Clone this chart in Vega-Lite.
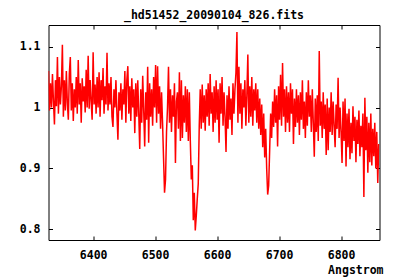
{
"$schema": "https://vega.github.io/schema/vega-lite/v6.json",
"width": 331, "height": 215,
"autosize": "none",
"padding": {"left": 48.5, "top": 25, "right": 20.5, "bottom": 40},
"background": "white",
"title": {"text": "_hd51452_20090104_826.fits", "font": "DejaVu Sans Mono", "fontSize": 11.5, "fontWeight": "bold", "color": "black", "anchor": "middle", "frame": "group", "offset": 7, "dy": 13, "baseline": "alphabetic"},
"config": {"view": {"stroke": "black", "strokeWidth": 1}},
"datasets": {"s": [
{"w":6328,"f":1.060},{"w":6329.6,"f":0.995},{"w":6331.2,"f":1.040},{"w":6332.8,"f":1.000},{"w":6334.4,"f":1.055},{"w":6336,"f":1.010},{"w":6337.6,"f":0.972},{"w":6339.2,"f":1.045},{"w":6340.8,"f":1.002},{"w":6342.4,"f":1.083},
{"w":6344,"f":0.990},{"w":6345.6,"f":1.050},{"w":6347.2,"f":1.005},{"w":6348.8,"f":1.035},{"w":6350.4,"f":1.103},{"w":6352,"f":0.985},{"w":6353.6,"f":1.045},{"w":6355.2,"f":0.995},{"w":6356.8,"f":1.060},{"w":6358.4,"f":1.008},
{"w":6360,"f":0.980},{"w":6361.6,"f":1.055},{"w":6363.2,"f":1.083},{"w":6364.8,"f":0.995},{"w":6366.4,"f":1.040},{"w":6368,"f":0.978},{"w":6369.6,"f":1.030},{"w":6371.2,"f":1.000},{"w":6372.8,"f":1.050},{"w":6374.4,"f":0.990},
{"w":6376,"f":1.078},{"w":6377.6,"f":1.005},{"w":6379.2,"f":1.040},{"w":6380.8,"f":0.975},{"w":6382.4,"f":1.048},{"w":6384,"f":1.010},{"w":6385.6,"f":1.035},{"w":6387.2,"f":0.992},{"w":6388.8,"f":1.062},{"w":6390.4,"f":1.000},
{"w":6392,"f":1.085},{"w":6393.6,"f":0.998},{"w":6395.2,"f":1.045},{"w":6396.8,"f":1.010},{"w":6398.4,"f":0.980},{"w":6400,"f":1.091},{"w":6401.6,"f":1.005},{"w":6403.2,"f":1.038},{"w":6404.8,"f":0.990},{"w":6406.4,"f":1.050},
{"w":6408,"f":1.000},{"w":6409.6,"f":1.058},{"w":6411.2,"f":0.985},{"w":6412.8,"f":1.045},{"w":6414.4,"f":1.012},{"w":6416,"f":1.065},{"w":6417.6,"f":0.990},{"w":6419.2,"f":1.035},{"w":6420.8,"f":1.005},{"w":6422.4,"f":1.090},
{"w":6424,"f":0.995},{"w":6425.6,"f":1.040},{"w":6427.2,"f":1.005},{"w":6428.8,"f":1.050},{"w":6430.4,"f":0.985},{"w":6432,"f":0.968},{"w":6433.6,"f":1.030},{"w":6435.2,"f":1.000},{"w":6436.8,"f":1.045},{"w":6438.4,"f":0.990},
{"w":6440,"f":0.947},{"w":6441.6,"f":1.025},{"w":6443.2,"f":0.995},{"w":6444.8,"f":1.040},{"w":6446.4,"f":0.980},{"w":6448,"f":1.030},{"w":6449.6,"f":1.005},{"w":6451.2,"f":1.060},{"w":6452.8,"f":0.975},{"w":6454.4,"f":1.045},
{"w":6456,"f":1.068},{"w":6457.6,"f":0.990},{"w":6459.2,"f":1.035},{"w":6460.8,"f":0.978},{"w":6462.4,"f":1.048},{"w":6464,"f":1.000},{"w":6465.6,"f":1.030},{"w":6467.2,"f":0.958},{"w":6468.8,"f":1.040},{"w":6470.4,"f":0.985},
{"w":6472,"f":1.045},{"w":6473.6,"f":0.990},{"w":6475.2,"f":0.932},{"w":6476.8,"f":1.030},{"w":6478.4,"f":0.975},{"w":6480,"f":1.052},{"w":6481.6,"f":0.995},{"w":6483.2,"f":0.936},{"w":6484.8,"f":1.025},{"w":6486.4,"f":0.980},
{"w":6488,"f":1.067},{"w":6489.6,"f":0.942},{"w":6491.2,"f":1.040},{"w":6492.8,"f":0.985},{"w":6494.4,"f":1.030},{"w":6496,"f":0.970},{"w":6497.6,"f":1.050},{"w":6499.2,"f":1.000},{"w":6500.8,"f":1.070},{"w":6502.4,"f":0.975},
{"w":6504,"f":1.068},{"w":6505.6,"f":0.990},{"w":6507.2,"f":1.035},{"w":6508.8,"f":0.965},{"w":6510.4,"f":1.025},{"w":6512,"f":0.975},{"w":6513.6,"f":0.917},{"w":6515.2,"f":0.860},{"w":6516.8,"f":0.882},{"w":6518.4,"f":0.960},
{"w":6520,"f":1.000},{"w":6521.6,"f":1.067},{"w":6523.2,"f":0.975},{"w":6524.8,"f":1.030},{"w":6526.4,"f":0.960},{"w":6528,"f":1.020},{"w":6529.6,"f":0.985},{"w":6531.2,"f":1.040},{"w":6532.8,"f":0.909},{"w":6534.4,"f":1.010},
{"w":6536,"f":1.025},{"w":6537.6,"f":0.965},{"w":6539.2,"f":1.058},{"w":6540.8,"f":0.945},{"w":6542.4,"f":1.045},{"w":6544,"f":0.950},{"w":6545.6,"f":1.020},{"w":6547.2,"f":0.975},{"w":6548.8,"f":1.035},{"w":6550.4,"f":0.960},
{"w":6552,"f":1.030},{"w":6553.6,"f":0.945},{"w":6555.2,"f":1.025},{"w":6556.8,"f":0.945},{"w":6558.4,"f":0.882},{"w":6560,"f":0.905},{"w":6561.6,"f":0.815},{"w":6563.2,"f":0.860},{"w":6564.8,"f":0.798},{"w":6566.4,"f":0.822},
{"w":6568,"f":0.850},{"w":6569.6,"f":0.875},{"w":6571.2,"f":0.970},{"w":6572.8,"f":1.030},{"w":6574.4,"f":0.965},{"w":6576,"f":1.038},{"w":6577.6,"f":0.975},{"w":6579.2,"f":1.020},{"w":6580.8,"f":0.962},{"w":6582.4,"f":1.030},
{"w":6584,"f":0.985},{"w":6585.6,"f":1.040},{"w":6587.2,"f":0.970},{"w":6588.8,"f":1.055},{"w":6590.4,"f":0.990},{"w":6592,"f":1.025},{"w":6593.6,"f":0.960},{"w":6595.2,"f":1.035},{"w":6596.8,"f":0.975},{"w":6598.4,"f":1.045},
{"w":6600,"f":0.980},{"w":6601.6,"f":1.030},{"w":6603.2,"f":0.942},{"w":6604.8,"f":1.040},{"w":6606.4,"f":0.990},{"w":6608,"f":1.050},{"w":6609.6,"f":0.970},{"w":6611.2,"f":1.025},{"w":6612.8,"f":0.985},{"w":6614.4,"f":0.927},
{"w":6616,"f":1.020},{"w":6617.6,"f":0.965},{"w":6619.2,"f":1.035},{"w":6620.8,"f":0.980},{"w":6622.4,"f":1.015},{"w":6624,"f":0.955},{"w":6625.6,"f":1.040},{"w":6627.2,"f":0.990},{"w":6628.8,"f":1.030},{"w":6630.4,"f":1.057},
{"w":6632,"f":1.124},{"w":6633.6,"f":0.975},{"w":6635.2,"f":1.067},{"w":6636.8,"f":0.990},{"w":6638.4,"f":1.040},{"w":6640,"f":0.965},{"w":6641.6,"f":1.030},{"w":6643.2,"f":1.000},{"w":6644.8,"f":1.045},{"w":6646.4,"f":0.970},
{"w":6648,"f":1.020},{"w":6649.6,"f":1.087},{"w":6651.2,"f":0.975},{"w":6652.8,"f":1.035},{"w":6654.4,"f":0.985},{"w":6656,"f":1.050},{"w":6657.6,"f":0.970},{"w":6659.2,"f":1.030},{"w":6660.8,"f":0.995},{"w":6662.4,"f":1.040},
{"w":6664,"f":0.975},{"w":6665.6,"f":1.030},{"w":6667.2,"f":0.965},{"w":6668.8,"f":1.015},{"w":6670.4,"f":0.955},{"w":6672,"f":1.005},{"w":6673.6,"f":0.935},{"w":6675.2,"f":0.990},{"w":6676.8,"f":0.918},{"w":6678.4,"f":0.965},
{"w":6680,"f":0.900},{"w":6681.6,"f":0.857},{"w":6683.2,"f":0.872},{"w":6684.8,"f":0.930},{"w":6686.4,"f":0.990},{"w":6688,"f":0.950},{"w":6689.6,"f":1.010},{"w":6691.2,"f":0.968},{"w":6692.8,"f":1.030},{"w":6694.4,"f":0.975},
{"w":6696,"f":1.020},{"w":6697.6,"f":0.936},{"w":6699.2,"f":1.035},{"w":6700.8,"f":0.980},{"w":6702.4,"f":1.054},{"w":6704,"f":0.970},{"w":6705.6,"f":1.073},{"w":6707.2,"f":0.985},{"w":6708.8,"f":1.030},{"w":6710.4,"f":0.960},
{"w":6712,"f":1.035},{"w":6713.6,"f":0.975},{"w":6715.2,"f":1.025},{"w":6716.8,"f":0.960},{"w":6718.4,"f":1.040},{"w":6720,"f":0.990},{"w":6721.6,"f":1.030},{"w":6723.2,"f":0.940},{"w":6724.8,"f":1.015},{"w":6726.4,"f":0.968},
{"w":6728,"f":1.030},{"w":6729.6,"f":0.975},{"w":6731.2,"f":1.020},{"w":6732.8,"f":0.955},{"w":6734.4,"f":1.025},{"w":6736,"f":0.980},{"w":6737.6,"f":1.045},{"w":6739.2,"f":0.965},{"w":6740.8,"f":1.010},{"w":6742.4,"f":0.950},
{"w":6744,"f":1.025},{"w":6745.6,"f":0.970},{"w":6747.2,"f":1.045},{"w":6748.8,"f":0.985},{"w":6750.4,"f":1.020},{"w":6752,"f":0.960},{"w":6753.6,"f":1.030},{"w":6755.2,"f":0.975},{"w":6756.8,"f":0.919},{"w":6758.4,"f":1.015},
{"w":6760,"f":0.960},{"w":6761.6,"f":1.020},{"w":6763.2,"f":0.945},{"w":6764.8,"f":1.093},{"w":6766.4,"f":0.970},{"w":6768,"f":1.010},{"w":6769.6,"f":0.950},{"w":6771.2,"f":1.025},{"w":6772.8,"f":0.965},{"w":6774.4,"f":1.005},
{"w":6776,"f":0.922},{"w":6777.6,"f":1.015},{"w":6779.2,"f":0.930},{"w":6780.8,"f":1.000},{"w":6782.4,"f":0.960},{"w":6784,"f":1.025},{"w":6785.6,"f":0.955},{"w":6787.2,"f":1.010},{"w":6788.8,"f":0.970},{"w":6790.4,"f":0.935},
{"w":6792,"f":1.005},{"w":6793.6,"f":0.965},{"w":6795.2,"f":1.049},{"w":6796.8,"f":0.950},{"w":6798.4,"f":1.000},{"w":6800,"f":0.960},{"w":6801.6,"f":0.909},{"w":6803.2,"f":1.010},{"w":6804.8,"f":0.945},{"w":6806.4,"f":1.015},
{"w":6808,"f":0.903},{"w":6809.6,"f":0.990},{"w":6811.2,"f":0.935},{"w":6812.8,"f":0.998},{"w":6814.4,"f":0.915},{"w":6816,"f":0.975},{"w":6817.6,"f":0.925},{"w":6819.2,"f":1.002},{"w":6820.8,"f":0.945},{"w":6822.4,"f":0.985},
{"w":6824,"f":0.910},{"w":6825.6,"f":0.980},{"w":6827.2,"f":0.940},{"w":6828.8,"f":0.995},{"w":6830.4,"f":0.920},{"w":6832,"f":0.970},{"w":6833.6,"f":0.935},{"w":6835.2,"f":0.990},{"w":6836.8,"f":0.853},{"w":6838.4,"f":1.016},
{"w":6840,"f":0.930},{"w":6841.6,"f":0.985},{"w":6843.2,"f":0.893},{"w":6844.8,"f":0.975},{"w":6846.4,"f":0.910},{"w":6848,"f":0.990},{"w":6849.6,"f":0.905},{"w":6851.2,"f":0.965},{"w":6852.8,"f":0.920},{"w":6854.4,"f":0.975},
{"w":6856,"f":0.900},{"w":6857.6,"f":0.960},{"w":6859.2,"f":0.876},{"w":6860.8,"f":0.940}
]},
"data": {"name": "s"},
"layer": [
{
"mark": {"type": "line", "color": "#ff0000", "strokeWidth": 1.5, "clip": true},
"encoding": {
"x": {"field": "w", "type": "quantitative", "scale": {"domain": [6328, 6862], "nice": false, "zero": false},
"axis": {"orient": "bottom", "values": [6400, 6500, 6600, 6700, 6800], "format": "d", "grid": false, "domain": false, "tickColor": "black", "tickSize": -4, "labelFlush": false, "labelFont": "DejaVu Sans Mono", "labelFontSize": 11.5, "labelFontWeight": "bold", "labelColor": "black", "labelPadding": 13, "labelDx": 3,
"title": "Angstrom", "titleFont": "DejaVu Sans Mono", "titleFontSize": 11.5, "titleFontWeight": "bold", "titleColor": "black", "titleAlign": "right", "titleX": 334.5, "titleY": 33, "titleBaseline": "alphabetic"}},
"y": {"field": "f", "type": "quantitative", "scale": {"domain": [0.7824, 1.1356], "nice": false, "zero": false},
"axis": {"orient": "left", "values": [0.8, 0.9, 1, 1.1], "format": "~g", "grid": false, "domain": false, "tickColor": "black", "tickSize": -4, "labelFlush": false, "labelFont": "DejaVu Sans Mono", "labelFontSize": 11.5, "labelFontWeight": "bold", "labelColor": "black", "labelPadding": 12.5, "title": null}}
}
},
{
"mark": {"type": "line", "strokeOpacity": 0},
"encoding": {
"x": {"field": "w", "type": "quantitative", "axis": {"orient": "top", "values": [6400, 6500, 6600, 6700, 6800], "labels": false, "grid": false, "domain": false, "tickColor": "black", "tickSize": -4, "title": null}},
"y": {"field": "f", "type": "quantitative", "axis": {"orient": "right", "values": [0.8, 0.9, 1, 1.1], "labels": false, "grid": false, "domain": false, "tickColor": "black", "tickSize": -4, "title": null}}
}
}
],
"resolve": {"axis": {"x": "independent", "y": "independent"}}
}
